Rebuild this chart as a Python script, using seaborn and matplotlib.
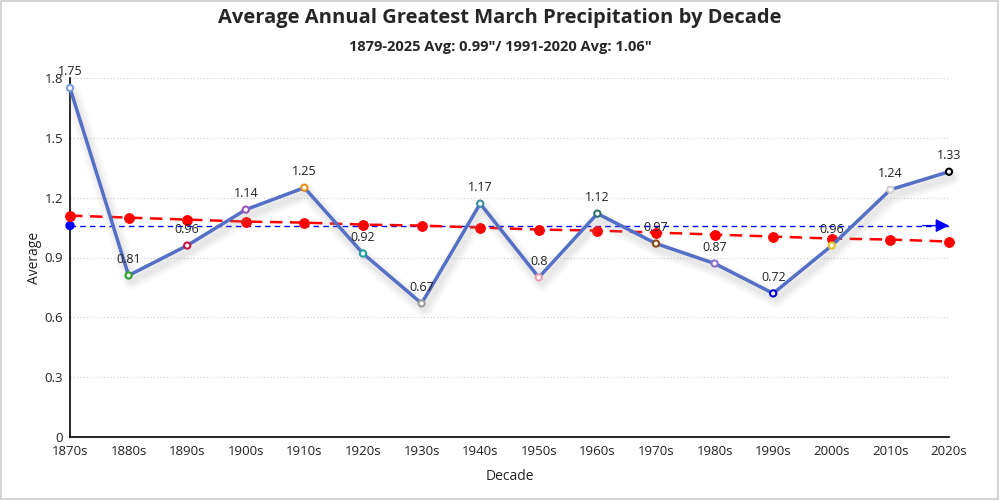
import matplotlib
matplotlib.use("Agg")
import matplotlib.pyplot as plt
import matplotlib.patheffects as pe
import seaborn as sns
import pandas as pd

decades = ["1870s", "1880s", "1890s", "1900s", "1910s", "1920s", "1930s", "1940s",
           "1950s", "1960s", "1970s", "1980s", "1990s", "2000s", "2010s", "2020s"]
averages = [1.75, 0.81, 0.96, 1.14, 1.25, 0.92, 0.67, 1.17,
            0.80, 1.12, 0.97, 0.87, 0.72, 0.96, 1.24, 1.33]
trend = [1.11, 1.10, 1.09, 1.08, 1.075, 1.065, 1.06, 1.05,
         1.04, 1.035, 1.025, 1.015, 1.005, 0.995, 0.99, 0.98]
normal_avg = 1.06
marker_colors = ["#7b9bd8", "#2ca02c", "#c0143c", "#9b59b6", "#e8901e", "#20a0a0",
                 "#9a9a9a", "#3a8fa8", "#e8a0b0", "#2f6f6f", "#8b4a13", "#8a70c8",
                 "#0000d0", "#e6c229", "#d0d0d0", "#000000"]
title = "Average Annual Greatest March Precipitation by Decade"
subtitle = "1879-2025 Avg: 0.99\"/ 1991-2020 Avg: 1.06\""

sns.set_style("white")
plt.rcParams["font.family"] = ["Open Sans", "DejaVu Sans"]

df = pd.DataFrame({"x": list(range(len(decades))), "decade": decades,
                   "avg": averages, "trend": trend,
                   "normal": [normal_avg] * len(decades)})

fig = plt.figure(figsize=(10, 5), dpi=100)
ax = fig.add_axes([0.07, 0.126, 0.879, 0.718])

# grid
for v in [0.3, 0.6, 0.9, 1.2, 1.5, 1.8]:
    ax.axhline(v, color="#cccccc", lw=0.8, ls=(0, (1, 2)), zorder=0)

# normal average dashed blue with arrow
sns.lineplot(data=df, x="x", y="normal", ax=ax, color="#0000ff", lw=1.0,
             linestyle=(0, (4, 3)), zorder=2)
ax.annotate("", xy=(df["x"].iloc[-1], normal_avg), xytext=(df["x"].iloc[-1] - 0.45, normal_avg),
            arrowprops=dict(arrowstyle="-|>", color="#0000ff", lw=1.0,
                            mutation_scale=20, shrinkA=0, shrinkB=0), zorder=3)
sns.scatterplot(x=[df["x"].iloc[0]], y=[normal_avg], ax=ax, color="#0000ff", s=45,
                edgecolor="none", zorder=3, clip_on=False)

# trend red dashed
sns.lineplot(data=df, x="x", y="trend", ax=ax, color="#ff0000", lw=1.8,
             linestyle=(0, (5, 3)), marker="o", markersize=7, markeredgecolor="#ff0000",
             zorder=3, clip_on=False)

# main line with soft shadow
shadow = [pe.SimpleLineShadow(offset=(2, -4), shadow_color="#999999", alpha=0.06,
                              linewidth=lw) for lw in (12, 9, 6, 4)]
sns.lineplot(data=df, x="x", y="avg", ax=ax, color="#5470c6", lw=2.5, zorder=4,
             path_effects=shadow + [pe.Normal()], clip_on=False)
sns.scatterplot(data=df, x="x", y="avg", hue="decade", palette=marker_colors, ax=ax,
                s=20, marker="o", linewidth=1.5, legend=False, zorder=5, clip_on=False)
coll = ax.collections[-1]
coll.set_edgecolors(marker_colors)
coll.set_facecolors("white")

for xi, v in zip(df["x"], averages):
    ax.annotate(f"{v:g}", (xi, v), xytext=(0, 7), textcoords="offset points",
                ha="center", va="bottom", fontsize=9, color="#222222", zorder=6)

ax.set_xlim(0, len(decades) - 1)
ax.set_ylim(0, 1.8)
ax.set_xticks(df["x"])
ax.set_xticklabels(decades)
ax.set_yticks([0, 0.3, 0.6, 0.9, 1.2, 1.5, 1.8])
ax.set_yticklabels(["0", "0.3", "0.6", "0.9", "1.2", "1.5", "1.8"])
ax.tick_params(axis="x", labelsize=9.5, length=0, pad=6, colors="#222222")
ax.tick_params(axis="y", labelsize=9.5, length=0, pad=5, colors="#222222")
for s in ["top", "right"]:
    ax.spines[s].set_visible(False)
ax.spines["left"].set_color("black")
ax.spines["bottom"].set_color("black")
ax.spines["left"].set_linewidth(1.2)
ax.spines["bottom"].set_linewidth(1.2)
ax.set_xlabel("Decade", fontsize=10, color="#222222", labelpad=8)
ax.set_ylabel("Average", fontsize=10, color="#222222", labelpad=2)

fig.text(0.5, 0.965, title, ha="center", va="center", fontsize=14.5, fontweight="bold")
fig.text(0.5, 0.905, subtitle, ha="center", va="center", fontsize=10.5, fontweight="bold")

fig.patches.append(plt.Rectangle((0.001, 0.002), 0.997, 0.996, transform=fig.transFigure,
                                 fill=False, edgecolor="#cccccc", lw=1.2))

fig.savefig("out.png", dpi=100)
